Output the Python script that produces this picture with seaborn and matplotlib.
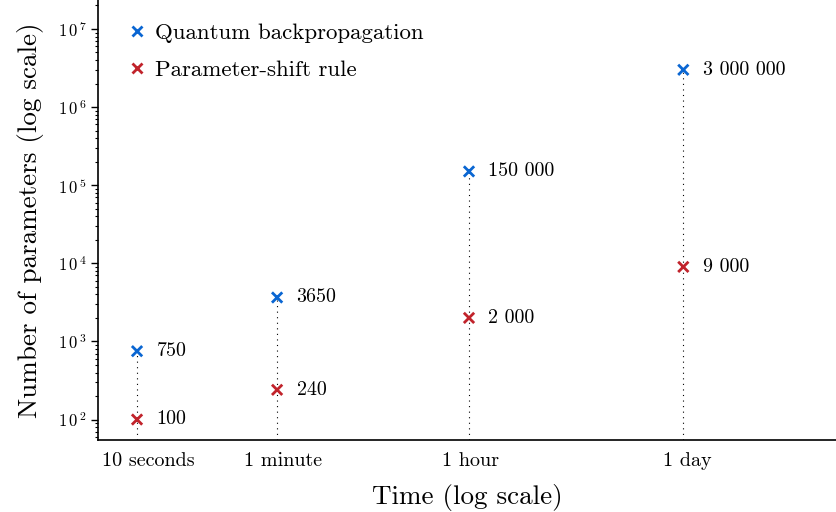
import numpy as np
import pandas as pd
import matplotlib
matplotlib.use("Agg")
import matplotlib.pyplot as plt
import matplotlib.ticker as mticker
import seaborn as sns

time_labels = ["10 seconds", "1 minute", "1 hour", "1 day"]
time_axis_values = [1.0, 2.0, 3.37, 4.9]
time_tick_values = [1.08, 2.04, 3.38, 4.93]
backprop_params = [750, 3650, 150000, 3000000]
shift_params = [100, 240, 2000, 9000]
backprop_text = ["750", "3650", "150 000", "3 000 000"]
shift_text = ["100", "240", "2 000", "9 000"]
series_names = ["Quantum backpropagation", "Parameter-shift rule"]
colors = ["#0a66d2", "#c1232b"]

sns.set_theme(style="white")
plt.rcParams.update({
    "font.family": "serif",
    "font.serif": ["cmr10"],
    "mathtext.fontset": "cm",
    "axes.formatter.use_mathtext": True,
    "axes.unicode_minus": False,
    "text.color": "black",
    "axes.labelcolor": "black",
    "xtick.color": "black",
    "ytick.color": "black",
})

df = pd.DataFrame({
    "time": time_axis_values * 2,
    "params": backprop_params + shift_params,
    "method": [series_names[0]] * 4 + [series_names[1]] * 4,
})

fig = plt.figure(figsize=(8.36, 5.12), dpi=100)
ax = fig.add_axes([0.117, 0.141, 0.883, 0.859])

ax.set_yscale("log")
ax.set_ylim(55, 2.35e7)
ax.set_xlim(0.72, 5.99)

ax.vlines(time_axis_values, 55, backprop_params, colors="black",
          linestyles=(0, (1, 4)), linewidth=0.8, zorder=1)

sns.scatterplot(data=df, x="time", y="params", hue="method",
                palette=colors, marker="x", s=55, linewidth=2.0, ax=ax, zorder=3)

for x, y, t in zip(time_axis_values, backprop_params, backprop_text):
    ax.annotate(t, (x, y), xytext=(14, 0), textcoords="offset points",
                va="center", ha="left", fontsize=14.4, color="black")
for x, y, t in zip(time_axis_values, shift_params, shift_text):
    ax.annotate(t, (x, y), xytext=(14, 0), textcoords="offset points",
                va="center", ha="left", fontsize=14.4, color="black")

ax.set_xticks(time_tick_values)
ax.set_xticklabels(time_labels, fontsize=14.5)
ax.tick_params(axis="x", length=0, pad=9)

def fmt(v, pos):
    e = int(round(np.log10(v)))
    return r"$\mathdefault{1\,0^{\,%d}}$" % e

ax.yaxis.set_major_formatter(mticker.FuncFormatter(fmt))
ax.tick_params(axis="y", which="major", direction="out", length=5, width=1, left=True, labelsize=12, pad=3)
ax.tick_params(axis="y", which="minor", direction="out", length=2.5, width=0.8, left=True)

for s in ["top", "right"]:
    ax.spines[s].set_visible(False)
for s in ["left", "bottom"]:
    ax.spines[s].set_color("black")
    ax.spines[s].set_linewidth(1.2)

ax.set_xlabel("Time (log scale)", fontsize=19.5, labelpad=10)
ax.set_ylabel("Number of parameters (log scale)", fontsize=19.5, labelpad=10)

leg = ax.legend(loc="upper left", frameon=False, fontsize=16.5, handletextpad=0.3,
                handlelength=1.0, bbox_to_anchor=(0.016, 0.985), labelspacing=0.75,
                borderaxespad=0.2, borderpad=0.5)
leg.set_title(None)
for t in leg.get_texts():
    t.set_color("black")

fig.savefig("out.png", dpi=100)
